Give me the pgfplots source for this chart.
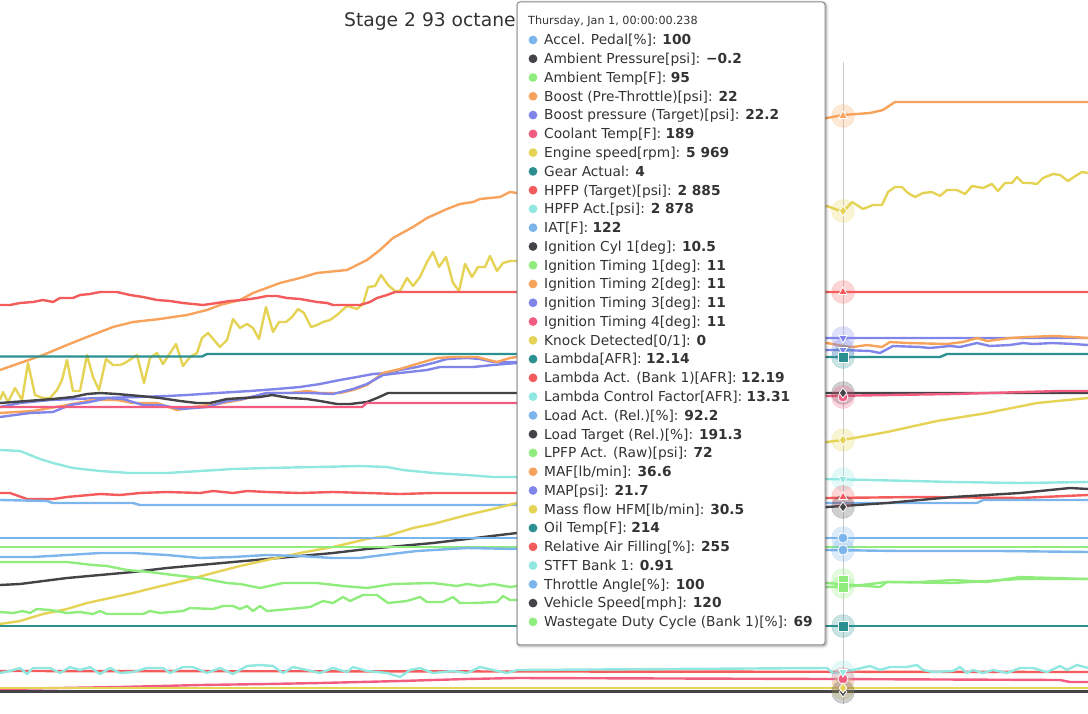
\documentclass[border=0pt]{standalone}
\usepackage{pgfplots}
\pgfplotsset{compat=1.18}
\usepackage{fontspec}
\setmainfont{DejaVu Sans}
\definecolor{hblue}{HTML}{7CB5EC}
\definecolor{hdark}{HTML}{434348}
\definecolor{hgreen}{HTML}{90ED7D}
\definecolor{horange}{HTML}{F7A35C}
\definecolor{hpurple}{HTML}{8085E9}
\definecolor{hpink}{HTML}{F15C80}
\definecolor{hyellow}{HTML}{E4D354}
\definecolor{hteal}{HTML}{2B908F}
\definecolor{hred}{HTML}{F45B5B}
\definecolor{hcyan}{HTML}{91E8E1}
\definecolor{txt}{HTML}{333333}
\newcommand\rowfont{\fontsize{13.75bp}{16bp}\selectfont}
\newcommand\trow[4]{%
  \fill[#2] (533,{40+#1*18.77}) circle (4.4);
  \node[anchor=base west, inner sep=0pt, text=txt, font=\rowfont] at (544,{40+#1*18.77+4.9}) {#3\textbf{#4}};}
\pgfplotsset{
  ln/.style={line width=2.4bp, line join=round, #1},
  halo/.style={only marks, mark=*, mark size=11.5bp, #1, opacity=0.25, mark options={draw=none}},
  mk/.style 2 args={only marks, mark=#2, mark size=5bp, mark options={fill=#1, draw=white, line width=0.8bp}},
  mkd/.style={only marks, mark=triangle*, mark size=5bp, mark options={fill=#1, draw=white, line width=0.8bp, rotate=180}},
}
\begin{document}
\begin{tikzpicture}
\path[use as bounding box] (0,0) rectangle (1088bp,714bp);
\begin{scope}[x=1bp,y=-1bp,yshift=714bp]
  \draw[line width=1bp, color=black!20] (843,62) -- (843,704);
\end{scope}
\begin{axis}[at={(0,0)}, anchor=south west, width=1088bp, height=714bp, scale only axis,
  xmin=0, xmax=1088, ymin=0, ymax=714, y dir=reverse, hide axis]
% Boost (upper orange)
\addplot[ln=horange] coordinates {(0,370)(43,355)(67,345)(87,337)(113,327)(133,322)(160,319)(173,317)(187,315)(207,310)(220,305)(240,300)(253,293)(280,283)(300,278)(317,273)(347,270)(367,260)(380,250)(393,238)(413,227)(427,218)(447,209)(460,204)(473,202)(480,199)(500,197)(510,192)(517,193)(827,118)(843,115)(870,113)(883,110)(895,102)(1088,102)};
% Engine speed
\addplot[ln=hyellow] coordinates {(0,400)(3,392)(8,402)(15,388)(22,400)(28,363)(35,395)(43,398)(50,398)(57,390)(62,380)(67,360)(73,391)(80,391)(87,355)(93,377)(99,390)(106,359)(113,365)(120,365)(125,363)(137,355)(144,383)(150,358)(157,353)(163,364)(176,344)(183,366)(190,357)(197,353)(202,338)(208,333)(220,347)(227,340)(233,319)(240,328)(247,324)(253,328)(259,339)(266,307)(273,332)(279,322)(286,322)(292,317)(298,309)(304,313)(311,327)(317,325)(323,322)(330,320)(337,315)(347,306)(357,309)(363,304)(368,287)(375,286)(381,275)(388,285)(395,291)(400,291)(407,278)(413,286)(420,277)(427,262)(433,252)(439,267)(446,257)(453,283)(459,291)(465,264)(472,277)(478,267)(485,267)(490,256)(497,271)(503,263)(510,261)(517,261)(827,206)(843,212)(852,202)(863,209)(873,205)(882,205)(888,192)(895,187)(902,187)(908,193)(915,197)(923,193)(932,192)(940,196)(947,190)(957,190)(965,194)(972,186)(983,188)(992,184)(998,191)(1005,183)(1012,183)(1017,177)(1023,183)(1030,183)(1037,184)(1043,178)(1053,174)(1060,175)(1068,181)(1077,175)(1082,172)(1088,173)};
% HPFP target
\addplot[ln=hred] coordinates {(0,305)(10,305)(20,303)(33,302)(43,300)(53,302)(60,298)(73,298)(80,295)(90,294)(100,292)(117,292)(130,295)(143,297)(157,300)(170,301)(183,303)(203,305)(217,303)(230,301)(243,300)(257,298)(267,296)(277,296)(287,298)(300,299)(317,302)(327,303)(333,305)(347,305)(360,305)(370,302)(377,298)(387,295)(395,292)(1088,292)};
% Gear
\addplot[ln=hteal] coordinates {(0,356.5)(202,356.5)(207,354)(517,354)(827,357)(940,357)(947,354)(1088,354)};
% Boost target (purple upper)
\addplot[ln=hpurple] coordinates {(0,407)(20,403)(50,400)(100,398)(140,397)(167,396)(187,395)(217,393)(250,391)(277,389)(300,387)(320,384)(340,380)(357,377)(373,374)(387,373)(400,370)(417,367)(433,363)(447,359)(467,358)(480,359)(493,362)(517,362)(827,338)(1088,338)};
% MAF (orange lower)
\addplot[ln=horange] coordinates {(0,413)(33,411)(67,405)(93,400)(117,400)(133,403)(157,403)(177,410)(193,407)(217,404)(240,400)(267,393)(290,393)(307,391)(320,393)(340,393)(353,390)(367,385)(383,373)(400,369)(420,363)(437,358)(453,357)(477,357)(497,362)(510,358)(517,357)(827,343)(843,346)(853,347)(867,345)(882,347)(890,342)(907,343)(947,344)(963,342)(977,338)(987,341)(1010,338)(1027,337)(1053,336)(1073,337)(1088,338)};
% MAP (purple lower)
\addplot[ln=hpurple] coordinates {(0,417)(30,413)(53,412)(70,405)(90,402)(107,398)(123,399)(143,405)(160,405)(182,409)(207,407)(227,401)(243,399)(267,393)(287,393)(310,393)(333,394)(353,389)(367,384)(383,375)(400,373)(427,370)(440,367)(457,367)(473,367)(493,365)(517,363)(827,350)(843,350)(870,351)(880,353)(893,346)(920,347)(930,348)(950,346)(960,347)(977,343)(990,346)(1010,345)(1023,343)(1033,344)(1053,343)(1073,344)(1088,345)};
% Ignition cyl 1 (dark)
\addplot[ln=hdark] coordinates {(0,403)(27,401)(53,399)(73,397)(87,394)(100,393)(117,394)(140,396)(160,398)(180,401)(197,403)(210,403)(227,399)(243,398)(260,397)(272,395)(290,398)(307,399)(320,401)(337,404)(350,404)(367,402)(377,398)(388,393)(1088,393)};
% Coolant (pink)
\addplot[ln=hpink] coordinates {(0,407)(362,407)(367,403)(517,403)(827,396)(953,394)(1060,391)(1088,391)};
% HPFP act (cyan)
\addplot[ln=hcyan] coordinates {(0,450)(20,451)(40,459)(53,463)(73,468)(100,471)(130,473)(167,473)(200,471)(233,469)(267,468)(317,467)(360,466)(387,467)(403,470)(433,473)(467,475)(493,477)(517,477)(827,479)(870,480)(953,482)(1020,483)(1088,482)};
% Lambda act (red)
\addplot[ln=hred] coordinates {(0,493)(10,493)(27,499)(53,499)(67,497)(100,494)(120,495)(140,493)(167,492)(200,493)(213,491)(233,493)(247,491)(267,492)(300,493)(333,492)(367,493)(400,494)(433,493)(467,493)(517,493)(827,498)(920,497)(1020,498)(1088,495)};
% IAT (blue)
\addplot[ln=hblue] coordinates {(0,500)(47,501)(53,503)(133,503)(140,505)(517,505)(827,503)(977,503)(983,500)(1088,500)};
% Vehicle speed (dark rising)
\addplot[ln=hdark] coordinates {(0,585)(20,584)(67,578)(100,575)(133,572)(167,568)(200,565)(233,562)(267,559)(300,556)(333,553)(367,549)(400,546)(433,543)(467,539)(500,535)(517,533)(827,507)(887,503)(953,497)(1020,493)(1070,488)(1088,489)};
% Mass flow HFM (yellow rising)
\addplot[ln=hyellow] coordinates {(0,624)(20,621)(43,614)(67,609)(87,603)(110,598)(133,593)(157,587)(187,580)(213,573)(240,566)(267,560)(300,553)(333,547)(367,539)(387,536)(413,528)(433,524)(467,515)(493,509)(517,503)(827,442)(843,440)(887,432)(937,421)(987,413)(1037,403)(1088,398)};
% Throttle (blue flat)
\addplot[ln=hblue] coordinates {(0,538)(1088,538)};
% Ambient temp (green flat)
\addplot[ln=hgreen] coordinates {(0,547)(1088,547)};
% Load act (blue wavy)
\addplot[ln=hblue] coordinates {(0,557)(33,557)(67,555)(100,553)(133,553)(167,555)(200,558)(233,557)(267,555)(300,556)(333,558)(360,558)(383,555)(417,551)(467,548)(517,549)(827,550)(900,551)(1000,551)(1088,552)};
% LPFP (green)
\addplot[ln=hgreen] coordinates {(0,562)(67,562)(93,565)(107,566)(127,570)(150,572)(173,575)(200,578)(227,583)(240,584)(260,588)(283,583)(317,583)(343,586)(367,588)(393,584)(433,583)(457,586)(467,584)(480,586)(493,584)(510,587)(517,586)(827,583)(880,587)(887,582)(953,583)(1020,579)(1088,579)};
% Wastegate (green)
\addplot[ln=hgreen] coordinates {(0,612)(13,613)(23,611)(30,613)(37,609)(50,610)(67,613)(80,612)(93,614)(100,611)(107,614)(143,614)(150,611)(160,613)(183,611)(190,608)(213,609)(223,606)(233,606)(240,609)(247,606)(253,611)(260,606)(267,611)(290,609)(310,607)(323,601)(333,603)(343,597)(350,601)(363,595)(377,595)(388,603)(407,601)(420,597)(427,602)(443,602)(453,597)(460,603)(473,603)(497,602)(503,596)(510,600)(517,600)(827,587)(853,586)(887,582)(920,582)(953,580)(987,582)(1020,577)(1053,578)(1088,579)};
% Oil temp (teal flat)
\addplot[ln=hteal] coordinates {(0,626)(1088,626)};
% Bottom group
\addplot[ln=hred] coordinates {(0,671)(1088,672)};
\addplot[ln=hcyan] coordinates {(0,673)(10,671)(20,668)(27,674)(33,668)(50,668)(60,673)(70,667)(80,670)(90,667)(100,674)(110,668)(120,673)(133,672)(147,668)(163,668)(170,673)(183,667)(193,667)(207,673)(220,668)(233,674)(247,666)(260,665)(273,666)(283,673)(293,667)(307,670)(320,673)(333,668)(347,672)(353,667)(367,671)(387,673)(400,677)(410,670)(420,668)(433,673)(453,671)(467,673)(480,667)(493,670)(507,673)(517,670)(827,668)(833,673)(853,670)(870,666)(880,670)(890,667)(907,667)(917,665)(923,670)(933,672)(953,671)(960,667)(967,673)(973,670)(983,673)(993,670)(1007,673)(1020,668)(1033,668)(1047,672)(1060,666)(1067,670)(1077,665)(1088,668)};
\addplot[ln=hpink] coordinates {(0,689)(120,687)(200,685)(267,684)(320,683)(400,681)(467,679)(517,678)(827,679)(1060,680)(1070,682)(1088,682)};
\addplot[ln=hyellow] coordinates {(0,688)(1088,688)};
\addplot[ln=hdark] coordinates {(0,691.5)(1088,691.5)};
% Halos
\addplot[halo=horange] coordinates {(843,116)};
\addplot[halo=hyellow] coordinates {(843,211)};
\addplot[halo=hred] coordinates {(843,292)};
\addplot[halo=hpurple] coordinates {(843,338)(843,350)};
\addplot[halo=hteal] coordinates {(843,357)};
\addplot[halo=hdark] coordinates {(843,393)};
\addplot[halo=hpink] coordinates {(843,397)};
\addplot[halo=hyellow] coordinates {(843,440)};
\addplot[halo=hcyan] coordinates {(843,479)};
\addplot[halo=hred] coordinates {(843,497)};
\addplot[halo=hdark] coordinates {(843,507)};
\addplot[halo=hblue] coordinates {(843,538)(843,550)};
\addplot[halo=hgreen] coordinates {(843,580)(843,587)};
\addplot[halo=hteal] coordinates {(843,626)};
\addplot[halo=hcyan] coordinates {(843,672)};
\addplot[halo=hpink] coordinates {(843,679)};
\addplot[halo=hyellow] coordinates {(843,688)};
\addplot[halo=hdark] coordinates {(843,692)};
% Markers
\addplot[mk={horange}{triangle*}] coordinates {(843,116)};
\addplot[mk={hyellow}{diamond*}] coordinates {(843,211)};
\addplot[mk={hred}{triangle*}] coordinates {(843,292)};
\addplot[mkd=hpurple] coordinates {(843,338)(843,350)};
\addplot[mk={hteal}{square*}] coordinates {(843,357)};
\addplot[mk={hpink}{*}] coordinates {(843,397)};
\addplot[mk={hdark}{diamond*}] coordinates {(843,393)};
\addplot[mk={hyellow}{diamond*}] coordinates {(843,440)};
\addplot[mkd=hcyan] coordinates {(843,479)};
\addplot[mk={hred}{triangle*}] coordinates {(843,497)};
\addplot[mk={hdark}{diamond*}] coordinates {(843,507)};
\addplot[mk={hblue}{*}] coordinates {(843,538)(843,550)};
\addplot[mk={hgreen}{square*}] coordinates {(843,580)(843,587)};
\addplot[mk={hteal}{square*}] coordinates {(843,626)};
\addplot[mk={hpink}{*}] coordinates {(843,679)};
\addplot[mkd=hcyan] coordinates {(843,672)};
\addplot[mk={hdark}{diamond*}] coordinates {(843,692)};
\addplot[mk={hyellow}{diamond*}] coordinates {(843,688)};
\end{axis}
\begin{scope}[x=1bp,y=-1bp,yshift=714bp]
  \node[anchor=base west, inner sep=0pt, text=txt, font=\fontsize{18.7bp}{21bp}\selectfont] at (344,27) {Stage 2 93 octane};
  % tooltip shadow
  \draw[black, opacity=0.05, line width=5bp, rounded corners=3] (518,3) rectangle (826,646);
  \draw[black, opacity=0.10, line width=3bp, rounded corners=3] (518,3) rectangle (826,646);
  \draw[black, opacity=0.15, line width=1bp, rounded corners=3] (518,3) rectangle (826,646);
  \filldraw[fill=white, draw=black!45, line width=1bp, rounded corners=3] (517,2) rectangle (825,645);
  \node[anchor=base west, inner sep=0pt, text=txt, font=\fontsize{11.2bp}{13bp}\selectfont] at (528,24.5) {Thursday, Jan 1, 00:00:00.238};
  \trow{0}{hblue}{Accel. Pedal[\%]: }{100}
  \trow{1}{hdark}{Ambient Pressure[psi]: }{−0.2}
  \trow{2}{hgreen}{Ambient Temp[F]: }{95}
  \trow{3}{horange}{Boost (Pre-Throttle)[psi]: }{22}
  \trow{4}{hpurple}{Boost pressure (Target)[psi]: }{22.2}
  \trow{5}{hpink}{Coolant Temp[F]: }{189}
  \trow{6}{hyellow}{Engine speed[rpm]: }{5 969}
  \trow{7}{hteal}{Gear Actual: }{4}
  \trow{8}{hred}{HPFP (Target)[psi]: }{2 885}
  \trow{9}{hcyan}{HPFP Act.[psi]: }{2 878}
  \trow{10}{hblue}{IAT[F]: }{122}
  \trow{11}{hdark}{Ignition Cyl 1[deg]: }{10.5}
  \trow{12}{hgreen}{Ignition Timing 1[deg]: }{11}
  \trow{13}{horange}{Ignition Timing 2[deg]: }{11}
  \trow{14}{hpurple}{Ignition Timing 3[deg]: }{11}
  \trow{15}{hpink}{Ignition Timing 4[deg]: }{11}
  \trow{16}{hyellow}{Knock Detected[0/1]: }{0}
  \trow{17}{hteal}{Lambda[AFR]: }{12.14}
  \trow{18}{hred}{Lambda Act. (Bank 1)[AFR]: }{12.19}
  \trow{19}{hcyan}{Lambda Control Factor[AFR]: }{13.31}
  \trow{20}{hblue}{Load Act. (Rel.)[\%]: }{92.2}
  \trow{21}{hdark}{Load Target (Rel.)[\%]: }{191.3}
  \trow{22}{hgreen}{LPFP Act. (Raw)[psi]: }{72}
  \trow{23}{horange}{MAF[lb/min]: }{36.6}
  \trow{24}{hpurple}{MAP[psi]: }{21.7}
  \trow{25}{hyellow}{Mass flow HFM[lb/min]: }{30.5}
  \trow{26}{hteal}{Oil Temp[F]: }{214}
  \trow{27}{hred}{Relative Air Filling[\%]: }{255}
  \trow{28}{hcyan}{STFT Bank 1: }{0.91}
  \trow{29}{hblue}{Throttle Angle[\%]: }{100}
  \trow{30}{hdark}{Vehicle Speed[mph]: }{120}
  \trow{31}{hgreen}{Wastegate Duty Cycle (Bank 1)[\%]: }{69}
\end{scope}
\end{tikzpicture}
\end{document}
